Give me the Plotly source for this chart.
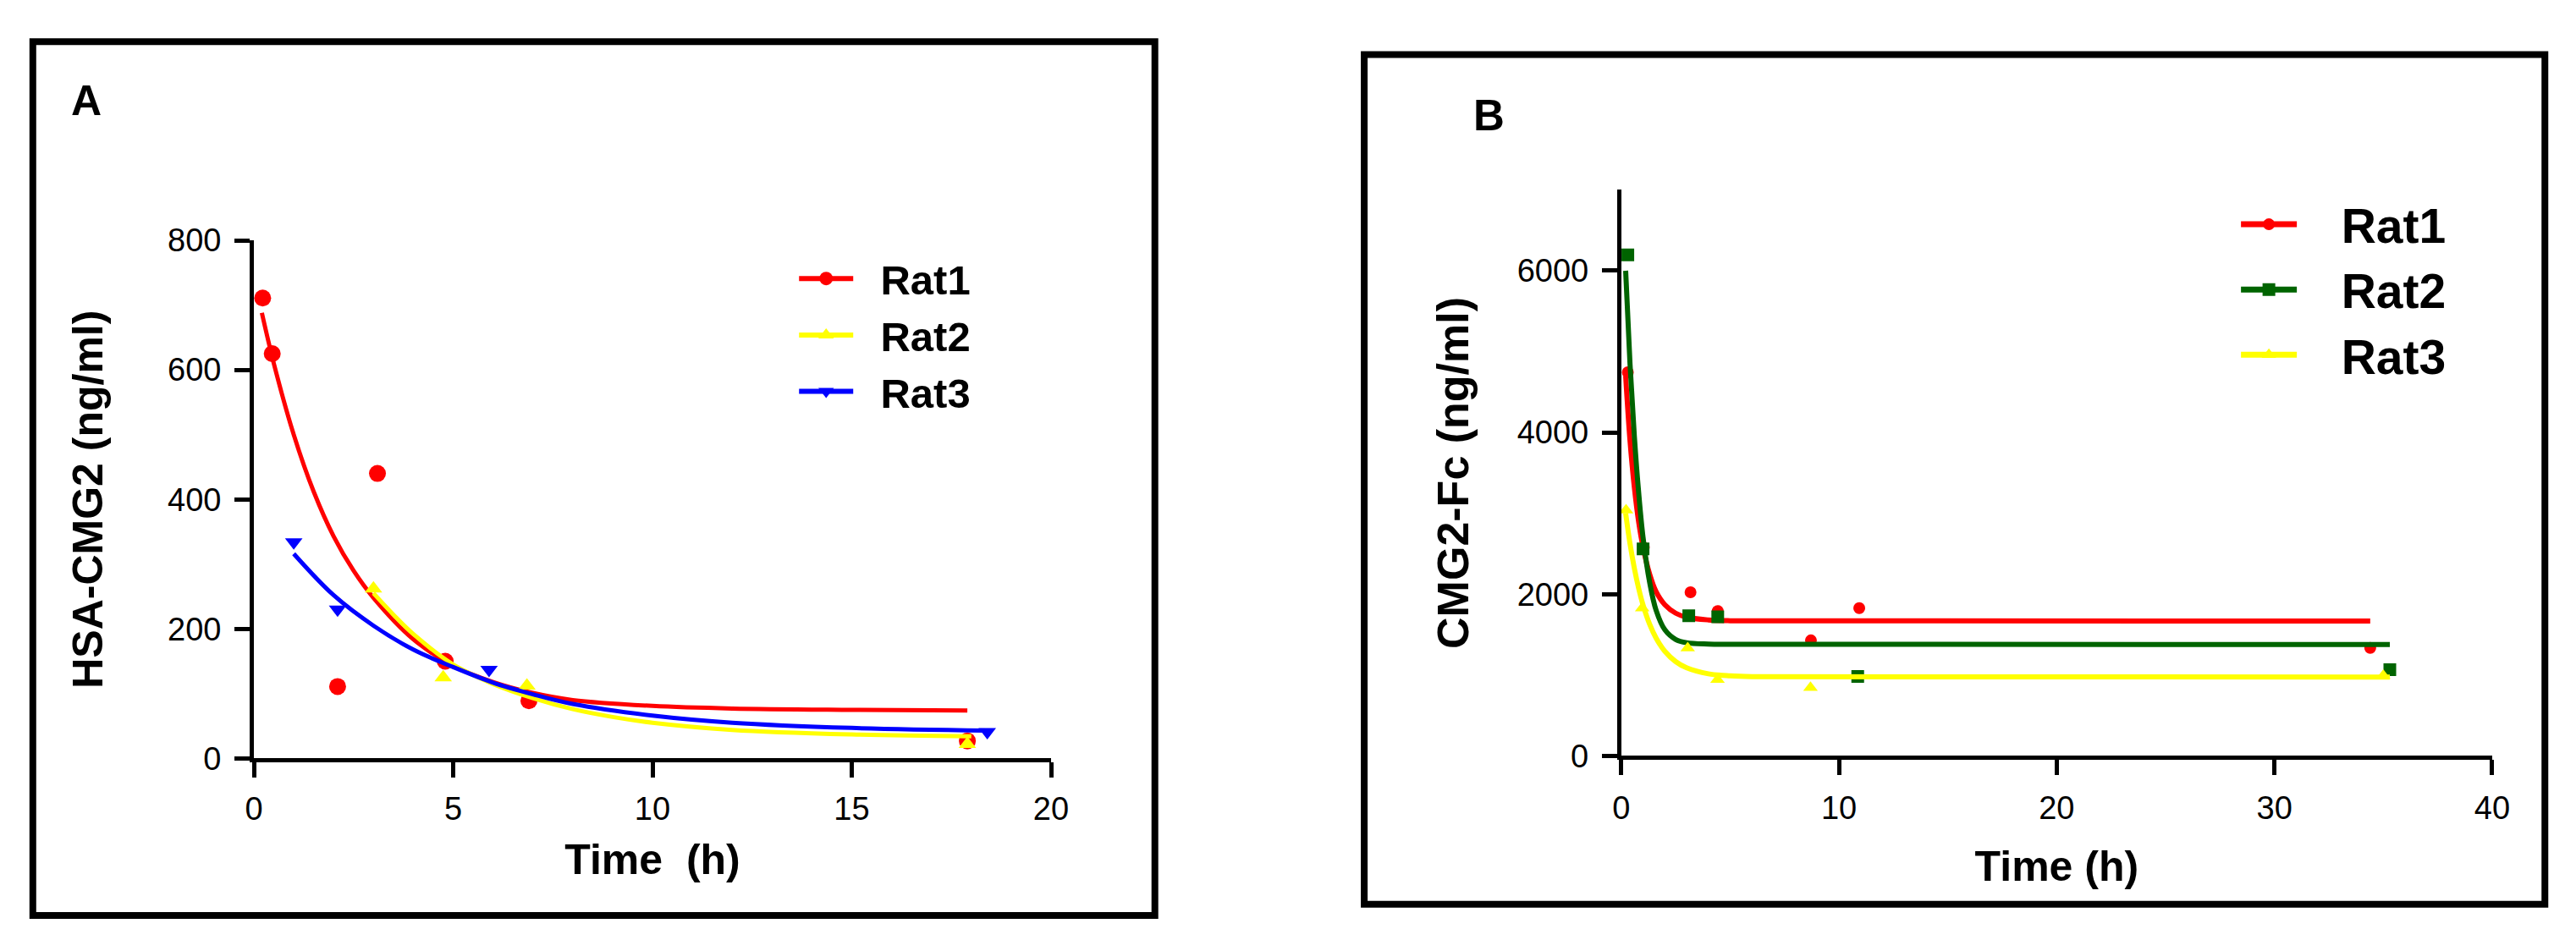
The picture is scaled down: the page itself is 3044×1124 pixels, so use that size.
import plotly.graph_objects as go

W, H = 3044, 1124

# ---- panel A : HSA-CMG2 ----
a_t_rat1 = [0.22, 0.46, 2.1, 3.1, 4.8, 6.9, 17.9]
a_c_rat1 = [711, 625, 111, 440, 150, 89, 27]
a_t_rat2 = [3.0, 4.75, 6.85, 17.9]
a_c_rat2 = [262, 125, 112, 22]
a_t_rat3 = [1.0, 2.1, 5.9, 18.4]
a_c_rat3 = [334, 230, 137, 41]

a_fit_t_rat1 = [0.2, 0.5, 1, 1.5, 2, 2.5, 3, 4, 5, 6, 7, 8, 10, 12, 15, 17.9]
a_fit_c_rat1 = [688, 610, 500, 412, 343, 290, 248, 184, 143, 118, 101, 90, 81, 77, 75, 74]
a_fit_t_rat2 = [3, 3.5, 4, 5, 6, 7, 8, 9, 10, 12, 15, 18]
a_fit_c_rat2 = [255, 222, 192, 145, 115, 93, 76, 64, 55, 44, 37, 34]
a_fit_t_rat3 = [1, 2, 3, 4, 5, 6, 7, 8, 10, 12, 15, 18.4]
a_fit_c_rat3 = [316, 252, 205, 168, 141, 117, 99, 84, 66, 55, 47, 43]

a_xticks = [0, 5, 10, 15, 20]
a_yticks = [0, 200, 400, 600, 800]

# ---- panel B : CMG2-Fc ----
b_t_rat1 = [0.3, 1.03, 3.18, 4.43, 8.71, 10.93, 34.4]
b_c_rat1 = [4745, 2576, 2024, 1792, 1429, 1828, 1335]
b_t_rat2 = [0.3, 1.0, 3.1, 4.43, 10.86, 35.3]
b_c_rat2 = [6196, 2560, 1734, 1720, 984, 1067]
b_t_rat3 = [0.22, 0.96, 3.05, 4.42, 8.69, 35.0]
b_c_rat3 = [3040, 1828, 1333, 943, 845, 994]

b_fit_t_rat1 = [0.2, 0.4, 0.6, 0.8, 1.0, 1.3, 1.6, 2.0, 2.5, 3.0, 4, 5, 34.4]
b_fit_c_rat1 = [4700, 3900, 3320, 2890, 2580, 2250, 2030, 1870, 1765, 1715, 1682, 1672, 1668]
b_fit_t_rat2 = [0.2, 0.4, 0.6, 0.8, 1.0, 1.3, 1.6, 2.0, 2.5, 3.0, 4, 5, 35.3]
b_fit_c_rat2 = [6000, 4850, 3950, 3250, 2700, 2150, 1800, 1560, 1440, 1400, 1383, 1380, 1378]
b_fit_t_rat3 = [0.2, 0.4, 0.6, 0.8, 1.0, 1.3, 1.6, 2.0, 2.5, 3.0, 4, 5, 6, 35.3]
b_fit_c_rat3 = [3000, 2625, 2320, 2070, 1866, 1630, 1457, 1294, 1166, 1090, 1016, 990, 980, 975]

b_xticks = [0, 10, 20, 30, 40]
b_yticks = [0, 2000, 4000, 6000]

names = ['Rat1', 'Rat2', 'Rat3']

RED, YEL, BLU, GRN = '#ff0000', '#ffff00', '#0000ff', '#006400'
FONT = 'Liberation Sans, Arial, sans-serif'
NB = '\u00a0'


def px(v):
    return v / W


def py(v):
    return 1 - v / H


fig = go.Figure()


def add_rat(pts_t, pts_c, fit_t, fit_c, name, color, symbol, msize, lw, xa, ya, leg, pad):
    fig.add_trace(go.Scatter(x=fit_t, y=fit_c, mode='lines', line=dict(color=color, width=lw, shape='spline'),
                             xaxis=xa, yaxis=ya, showlegend=False, hoverinfo='skip'))
    fig.add_trace(go.Scatter(x=pts_t, y=pts_c, mode='markers',
                             marker=dict(color=color, symbol=symbol, size=msize),
                             xaxis=xa, yaxis=ya, showlegend=False, name=name))
    # legend entry (line + marker)
    fig.add_trace(go.Scatter(x=[None], y=[None], mode='lines+markers', name=NB * pad + name,
                             line=dict(color=color, width=lw + 1),
                             marker=dict(color=color, symbol=symbol, size=msize),
                             xaxis=xa, yaxis=ya, legend=leg, legendgroup=leg + name))


add_rat(a_t_rat1, a_c_rat1, a_fit_t_rat1, a_fit_c_rat1, names[0], RED, 'circle', 20, 5, 'x', 'y', 'legend', 2)
add_rat(a_t_rat2, a_c_rat2, a_fit_t_rat2, a_fit_c_rat2, names[1], YEL, 'triangle-up', 18, 5, 'x', 'y', 'legend', 2)
add_rat(a_t_rat3, a_c_rat3, a_fit_t_rat3, a_fit_c_rat3, names[2], BLU, 'triangle-down', 18, 5, 'x', 'y', 'legend', 2)

add_rat(b_t_rat1, b_c_rat1, b_fit_t_rat1, b_fit_c_rat1, names[0], RED, 'circle', 14, 6, 'x2', 'y2', 'legend2', 3)
add_rat(b_t_rat2, b_c_rat2, b_fit_t_rat2, b_fit_c_rat2, names[1], GRN, 'square', 15, 6, 'x2', 'y2', 'legend2', 3)
add_rat(b_t_rat3, b_c_rat3, b_fit_t_rat3, b_fit_c_rat3, names[2], YEL, 'triangle-up', 15, 6, 'x2', 'y2', 'legend2', 3)

tickfont = dict(family=FONT, size=38, color='black')
titlefont = dict(family=FONT, size=50, color='black', weight='bold')
axis_common = dict(showgrid=False, zeroline=False, showline=True, linecolor='black', linewidth=5,
                   ticks='outside', ticklen=18, tickwidth=5, tickcolor='black', tickfont=tickfont)

fig.update_layout(
    width=W, height=H,
    margin=dict(l=0, r=0, t=0, b=0),
    paper_bgcolor='white', plot_bgcolor='white',
    xaxis=dict(domain=[px(284), px(1236)], range=[0, 20], tickvals=a_xticks, anchor='y', ticklabelstandoff=4,
               title=dict(text='Time  (h)', font=titlefont, standoff=24), **axis_common),
    yaxis=dict(domain=[py(901), py(265)], range=[0, 800], tickvals=a_yticks, anchor='x', ticklabelstandoff=8,
               title=dict(text='HSA-CMG2 (ng/ml)', font=titlefont, standoff=62), **axis_common),
    xaxis2=dict(domain=[px(1917), px(2957)], range=[0, 40], tickvals=b_xticks, anchor='y2', ticklabelstandoff=6,
                title=dict(text='Time (h)', font=titlefont, standoff=32), **axis_common),
    yaxis2=dict(domain=[py(898), py(203)], range=[0, 7000], tickvals=b_yticks, anchor='x2', ticklabelstandoff=8,
                title=dict(text='CMG2-Fc (ng/ml)', font=dict(titlefont, size=52), standoff=42), **axis_common),
    legend=dict(x=px(930), y=py(272), xanchor='left', yanchor='top', bgcolor='rgba(0,0,0,0)',
                font=dict(family=FONT, size=49, color='black', weight='bold'),
                itemwidth=64, tracegroupgap=0),
    legend2=dict(x=px(2652), y=py(200), xanchor='left', yanchor='top', bgcolor='rgba(0,0,0,0)',
                 font=dict(family=FONT, size=57, color='black', weight='bold'),
                 itemwidth=66, tracegroupgap=0),
    shapes=[
        dict(type='rect', xref='paper', yref='paper', x0=px(20), x1=px(1360), y0=py(1094), y1=py(21),
             line=dict(color='black', width=8)),
        dict(type='rect', xref='paper', yref='paper', x0=px(1610), x1=px(3020), y0=py(1080), y1=py(37),
             line=dict(color='black', width=8)),
    ],
    annotations=[
        dict(text='A', x=px(84), y=py(94), xref='paper', yref='paper', showarrow=False,
             xanchor='center', yanchor='middle',
             font=dict(family=FONT, size=50, color='black', weight='bold')),
        dict(text='B', x=px(1759), y=py(112), xref='paper', yref='paper', showarrow=False,
             xanchor='center', yanchor='middle',
             font=dict(family=FONT, size=51, color='black', weight='bold')),
    ],
)

fig.write_html('out.html')
